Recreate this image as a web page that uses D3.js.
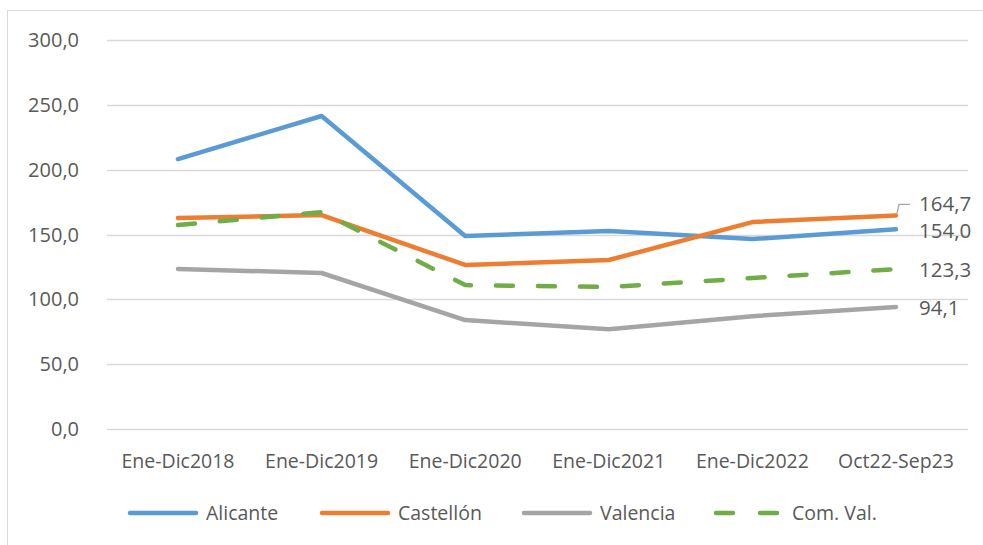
<!DOCTYPE html>
<html>
<head>
	<meta charset="utf-8">
	<title>Comunitat Valenciana</title>
	<script src="https://cdn.jsdelivr.net/npm/d3@7/dist/d3.min.js"></script>
	<style>
		body { margin: 0; background: #fff; }
		text { font-family: "Open Sans", sans-serif; fill: #595959; }
	</style>
</head>
<body>
	<svg id="chart" width="983" height="545"></svg>
	<script>
		var categories = ['Ene-Dic2018', 'Ene-Dic2019', 'Ene-Dic2020', 'Ene-Dic2021', 'Ene-Dic2022', 'Oct22-Sep23'];
		var alicante = [208.2, 241.4, 148.8, 152.7, 146.5, 154.0];
		var castellon = [162.7, 165.0, 126.5, 130.3, 159.6, 164.7];
		var valencia = [123.4, 120.3, 84.0, 77.0, 87.0, 94.1];
		var comVal = [157.3, 167.3, 111.0, 109.5, 116.4, 123.3];
		var yTicks = [0, 50, 100, 150, 200, 250, 300];

		var series = [
			{ name: 'Alicante', values: alicante, color: '#5b9bd5', dash: null, labelDy: 9 },
			{ name: 'Castellón', values: castellon, color: '#ed7d31', dash: null, labelDy: -4 },
			{ name: 'Valencia', values: valencia, color: '#a5a5a5', dash: null, labelDy: 8 },
			{ name: 'Com. Val.', values: comVal, color: '#70ad47', dash: '17,25', labelDy: 8 }
		];

		var svg = d3.select('#chart');
		var fmt = function (v) { return d3.format('.1f')(v).replace('.', ','); };

		// chart border
		svg.append('rect')
			.attr('x', 7.5).attr('y', 10.5)
			.attr('width', 990).attr('height', 560)
			.attr('fill', 'none').attr('stroke', '#d9d9d9');

		var x = d3.scalePoint()
			.domain(categories)
			.range([178, 896]);

		var y = d3.scaleLinear()
			.domain([0, 300])
			.range([429, 40]);

		// gridlines
		svg.append('g')
			.selectAll('line')
			.data(yTicks)
			.enter()
			.append('line')
			.attr('x1', 107).attr('x2', 968)
			.attr('y1', d => Math.round(y(d)) + 0.5)
			.attr('y2', d => Math.round(y(d)) + 0.5)
			.attr('stroke', '#d9d9d9')
			.attr('stroke-width', 1.3);

		// y axis labels
		svg.append('g')
			.selectAll('text')
			.data(yTicks)
			.enter()
			.append('text')
			.attr('x', 79)
			.attr('y', d => y(d) + 7)
			.attr('text-anchor', 'end')
			.attr('font-size', 20)
			.text(fmt);

		// x axis labels
		svg.append('g')
			.selectAll('text')
			.data(categories)
			.enter()
			.append('text')
			.attr('x', d => x(d))
			.attr('y', 468)
			.attr('text-anchor', 'middle')
			.attr('font-size', 19.5)
			.text(d => d);

		var line = d3.line()
			.x((d, i) => x(categories[i]))
			.y(d => y(d));

		svg.append('g')
			.selectAll('path')
			.data(series)
			.enter()
			.append('path')
			.attr('d', d => line(d.values))
			.attr('fill', 'none')
			.attr('stroke', d => d.color)
			.attr('stroke-width', 4.5)
			.attr('stroke-linejoin', 'round')
			.attr('stroke-linecap', 'round')
			.attr('stroke-dasharray', d => d.dash);

		// end labels
		var last = categories.length - 1;
		svg.append('g')
			.selectAll('text')
			.data(series)
			.enter()
			.append('text')
			.attr('x', 919)
			.attr('y', d => y(d.values[last]) + d.labelDy)
			.attr('font-size', 20.5)
			.text(d => fmt(d.values[last]));

		// leader line for Castellón label
		var cy = y(castellon[last]);
		svg.append('path')
			.attr('d', 'M' + (x(categories[last]) + 1) + ',' + (cy - 2) + 'L' + (x(categories[last]) + 3) + ',' + (cy - 11) + 'H910')
			.attr('fill', 'none')
			.attr('stroke', '#a6a6a6')
			.attr('stroke-width', 1.3);

		// legend
		var legendX = [130, 322, 524, 716];
		var legend = svg.append('g')
			.selectAll('g')
			.data(series)
			.enter()
			.append('g')
			.attr('transform', (d, i) => 'translate(' + legendX[i] + ',513)');

		legend.append('line')
			.attr('x1', 0).attr('x2', 66)
			.attr('stroke', d => d.color)
			.attr('stroke-width', 4.5)
			.attr('stroke-linecap', 'round')
			.attr('stroke-dasharray', d => d.dash ? '17,27' : null);

		legend.append('text')
			.attr('x', 76)
			.attr('y', 7)
			.attr('font-size', 19.5)
			.text(d => d.name);
	</script>
</body>
</html>
